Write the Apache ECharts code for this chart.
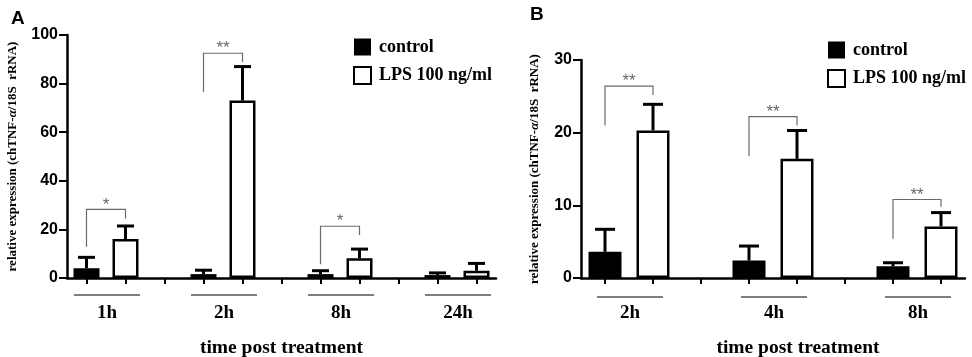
<!DOCTYPE html>
<html><head><meta charset="utf-8">
<script src="https://cdn.jsdelivr.net/npm/echarts@6/dist/echarts.min.js"></script>
<style>html,body{margin:0;padding:0;background:#fff}#c{width:972px;height:357px}</style>
</head><body><div id="c"></div>
<script>
// ---- Panel A data ----
const categoriesA = ['1h', '2h', '8h', '24h'];
const controlA = [4.0, 1.6, 1.6, 1.2];
const controlA_sd = [4.5, 1.6, 1.4, 0.9];
const lpsA = [16.0, 73.0, 8.1, 3.0];
const lpsA_sd = [5.4, 14.0, 3.8, 3.0];
// significance brackets: [group index, left foot, top, right foot, label]
const bracketsA = [[0, 12.9, 28.2, 24.5, '*'], [1, 76.5, 92.5, 88.8, '**'], [2, 5.7, 21.3, 17.7, '*']];
const yTicksA = {min: 0, max: 100, interval: 20};

// ---- Panel B data ----
const categoriesB = ['2h', '4h', '8h'];
const controlB = [3.6, 2.4, 1.6];
const controlB_sd = [3.1, 2.0, 0.5];
const lpsB = [20.3, 16.4, 7.1];
const lpsB_sd = [3.6, 3.9, 1.9];
const bracketsB = [[0, 21.0, 26.4, 25.2, '**'], [1, 16.8, 22.2, 21.0, '**'], [2, 5.4, 10.8, 9.8, '**']];
const yTicksB = {min: 0, max: 30, interval: 10};

const seriesNames = ['control', 'LPS 100 ng/ml'];
const yTitle = 'relative expression (chTNF-{i|α}/18S  rRNA)';
const xTitle = 'time post treatment';

// ---- helpers ----
const SERIF = '"Liberation Serif","Times New Roman",serif';
const SANS = '"Liberation Sans",Arial,sans-serif';

function slots(cats) {
  const s = [];
  cats.forEach((c, i) => { s.push(c + '-c', c + '-l'); if (i < cats.length - 1) s.push(c + '-gap'); });
  return s;
}
function barData(vals, offset, n) {
  const d = new Array(n).fill('-');
  vals.forEach((v, i) => { d[3 * i + offset] = v; });
  return d;
}
function errData(vals, sds, offset) {
  return vals.map((v, i) => [3 * i + offset, v, sds[i]]);
}
function errSeries(idx, data, cap) {
  return {
    type: 'custom', xAxisIndex: idx, yAxisIndex: idx, z: 5, silent: true,
    data: data, encode: {x: 0, y: [1, 2]},
    renderItem: function (params, api) {
      const x = api.value(0), m = api.value(1), s = api.value(2);
      const p0 = api.coord([x, m]), p1 = api.coord([x, m + s]);
      return {type: 'group', children: [
        {type: 'line', shape: {x1: p0[0], y1: p0[1], x2: p1[0], y2: p1[1]}, style: {stroke: '#000', lineWidth: 3}},
        {type: 'line', shape: {x1: p1[0] - cap / 2, y1: p1[1], x2: p1[0] + cap / 2, y2: p1[1]}, style: {stroke: '#000', lineWidth: 3}}
      ]};
    }
  };
}
function bracketSeries(idx, br) {
  return {
    type: 'custom', xAxisIndex: idx, yAxisIndex: idx, z: 6, silent: true,
    data: br.map(b => [3 * b[0], 3 * b[0] + 1, b[1], b[2], b[3]]),
    encode: {x: [0, 1], y: [2, 3, 4]},
    renderItem: function (params, api) {
      const xl = api.value(0), xr = api.value(1);
      const a = api.coord([xl, api.value(2)]), b = api.coord([xl, api.value(3)]);
      const c = api.coord([xr, api.value(3)]), d = api.coord([xr, api.value(4)]);
      const lab = br[params.dataIndex][4];
      return {type: 'group', children: [
        {type: 'polyline', shape: {points: [a, b, c, d]}, style: {stroke: '#6a6a6a', lineWidth: 1.2, fill: null}},
        {type: 'text', x: (b[0] + c[0]) / 2, y: b[1] + 4, style: {text: lab, fill: '#666', font: '17px ' + SANS, align: 'center', verticalAlign: 'bottom'}}
      ]};
    }
  };
}
function groupSeries(idx, cats, lineOff, textOff, hw) {
  return {
    type: 'custom', xAxisIndex: idx, yAxisIndex: idx, z: 4, silent: true, clip: false,
    data: cats.map((c, i) => [3 * i, 3 * i + 1, 0]),
    encode: {x: [0, 1], y: 2},
    renderItem: function (params, api) {
      const p0 = api.coord([api.value(0), 0]), p1 = api.coord([api.value(1), 0]);
      const mid = (p0[0] + p1[0]) / 2 + 1;
      return {type: 'group', children: [
        {type: 'line', shape: {x1: mid - hw, y1: p0[1] + lineOff, x2: mid + hw, y2: p0[1] + lineOff}, style: {stroke: '#555', lineWidth: 1.5}},
        {type: 'text', x: mid, y: p0[1] + textOff, style: {text: cats[params.dataIndex], fill: '#000', font: 'bold 19px ' + SERIF, align: 'center', verticalAlign: 'middle'}}
      ]};
    }
  };
}
function xAxisDef(idx, cats, namePad) {
  return {
    type: 'category', gridIndex: idx, data: slots(cats), boundaryGap: true,
    axisLine: {show: true, lineStyle: {color: '#000', width: 2.5}},
    axisTick: {show: true, alignWithLabel: true, interval: 0, length: 6, lineStyle: {color: '#000', width: 2}},
    axisLabel: {show: false}, splitLine: {show: false},
    name: xTitle, nameLocation: 'middle', nameGap: 60,
    nameTextStyle: {fontFamily: SERIF, fontWeight: 'bold', fontSize: 19.5, color: '#000', padding: namePad}
  };
}
function yAxisDef(idx, t, gap) {
  return {
    type: 'value', gridIndex: idx, min: t.min, max: t.max, interval: t.interval,
    axisLine: {show: true, lineStyle: {color: '#000', width: 2.5}},
    axisTick: {show: true, length: 8, lineStyle: {color: '#000', width: 2}},
    axisLabel: {fontFamily: SANS, fontWeight: 'bold', fontSize: 16, color: '#000', margin: 9},
    splitLine: {show: false},
    name: yTitle, nameLocation: 'middle', nameGap: gap, nameRotate: 90,
    nameTextStyle: {fontFamily: SERIF, fontWeight: 'bold', fontSize: 13, color: '#000',
      rich: {i: {fontFamily: SERIF, fontWeight: 'bold', fontStyle: 'italic', fontSize: 13, color: '#000'}}}
  };
}
function legendDef(left, top) {
  return {
    left: left, top: top, orient: 'vertical', itemWidth: 17, itemHeight: 17, itemGap: 10,
    selectedMode: false,
    textStyle: {fontFamily: SERIF, fontWeight: 'bold', fontSize: 18, color: '#000', lineHeight: 17, padding: [0, 0, 0, 3]},
    data: [
      {name: seriesNames[0], icon: 'rect', itemStyle: {color: '#000', borderColor: '#000', borderWidth: 0}},
      {name: seriesNames[1], icon: 'rect', itemStyle: {color: '#fff', borderColor: '#000', borderWidth: 2}}
    ]
  };
}
function barSeries(idx, name, vals, offset, n, width, fill) {
  return {
    type: 'bar', name: name, xAxisIndex: idx, yAxisIndex: idx, barWidth: width, barGap: '-100%',
    data: barData(vals, offset, n), z: 3,
    itemStyle: {color: fill, borderColor: '#000', borderWidth: 2.5}
  };
}

const nA = slots(categoriesA).length, nB = slots(categoriesB).length;
const chart = echarts.init(document.getElementById('c'), null, {renderer: 'canvas'});
chart.setOption({
  animation: false,
  backgroundColor: '#fff',
  title: [
    {text: 'A', left: 6, top: 4, textStyle: {fontFamily: SANS, fontWeight: 'bold', fontSize: 19, color: '#000'}},
    {text: 'B', left: 525, top: 0, textStyle: {fontFamily: SANS, fontWeight: 'bold', fontSize: 19, color: '#000'}}
  ],
  legend: [legendDef(348, 33), legendDef(822, 36)],
  grid: [
    {left: 67, top: 35, width: 429, height: 243, outerBoundsMode: 'none', containLabel: false},
    {left: 581, top: 60, width: 384, height: 218, outerBoundsMode: 'none', containLabel: false}
  ],
  xAxis: [xAxisDef(0, categoriesA, [0, 0, 0, 0]), xAxisDef(1, categoriesB, [0, 0, 0, 50])],
  yAxis: [yAxisDef(0, yTicksA, 48), yAxisDef(1, yTicksB, 40)],
  series: [
    barSeries(0, seriesNames[0], controlA, 0, nA, 26, '#000'),
    barSeries(0, seriesNames[1], lpsA, 1, nA, 26, '#fff'),
    barSeries(1, seriesNames[0], controlB, 0, nB, 33, '#000'),
    barSeries(1, seriesNames[1], lpsB, 1, nB, 33, '#fff'),
    errSeries(0, errData(controlA, controlA_sd, 0), 17),
    errSeries(0, errData(lpsA, lpsA_sd, 1), 17),
    errSeries(1, errData(controlB, controlB_sd, 0), 20),
    errSeries(1, errData(lpsB, lpsB_sd, 1), 20),
    bracketSeries(0, bracketsA),
    bracketSeries(1, bracketsB),
    groupSeries(0, categoriesA, 17, 35, 33),
    groupSeries(1, categoriesB, 19, 35, 33)
  ]
});
</script></body></html>
